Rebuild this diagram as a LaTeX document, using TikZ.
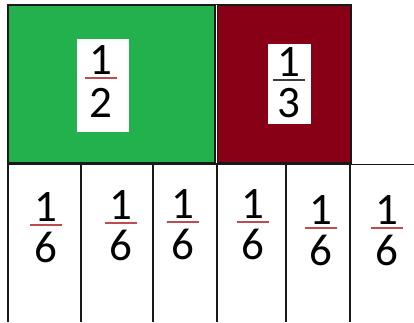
\documentclass[tikz,border=0pt]{standalone}
\usepackage{fontspec}
\setmainfont{Carlito}
\definecolor{gfill}{RGB}{34,177,76}
\definecolor{rfill}{RGB}{136,0,21}
\definecolor{barred}{RGB}{190,75,80}
\definecolor{bardark}{RGB}{60,60,60}
\tikzset{
  digit/.style={inner sep=0pt,font=\fontsize{45}{45}\selectfont,text=black},
  grid/.style={draw=black!90,line width=1.3pt},
  fbar/.style={line width=1.3pt},
  whitebox/.style={fill=white,draw=none}
}
\newcommand{\myfrac}[6]{% name, cx, bary, den, barcolor, denoffset
  \node[digit,anchor=base] (#1n) at (#2,#3-4) {1};
  \node[digit,anchor=base] (#1d) at (#2,#3+#6) {#4};
  \draw[fbar,#5] (#2-16,#3) -- (#2+16,#3);
}
\begin{document}
\begin{tikzpicture}[x=1pt,y=-1pt]
\useasboundingbox (0,0) rectangle (414,322);
% top rectangles
\filldraw[fill=gfill,draw=black!90,line width=1.2pt] (8,5) rectangle (215,163);
\filldraw[fill=rfill,draw=black!90,line width=1.2pt] (217,5) rectangle (351,163);
\draw[white,line width=1pt] (216,5) -- (216,163);
\fill[whitebox] (77,39) rectangle (129,132);
\fill[whitebox] (268,44) rectangle (311,124);
\myfrac{h}{101}{78}{2}{barred}{39}
\myfrac{t}{289}{80}{3}{bardark}{37}
% bottom grid
\draw[grid] (7,164.5) -- (414,164.5);
\foreach \xx in {8,81,153,217,286,350}{
  \draw[grid] (\xx,164.5) -- (\xx,322);
}
\myfrac{a}{46}{225}{6}{barred}{37}
\myfrac{b}{121}{223}{6}{barred}{37}
\myfrac{c}{183}{222}{6}{barred}{37}
\myfrac{d}{253}{222}{6}{barred}{37}
\myfrac{e}{321}{228}{6}{barred}{37}
\myfrac{f}{387}{228}{6}{barred}{37}
\end{tikzpicture}
\end{document}
